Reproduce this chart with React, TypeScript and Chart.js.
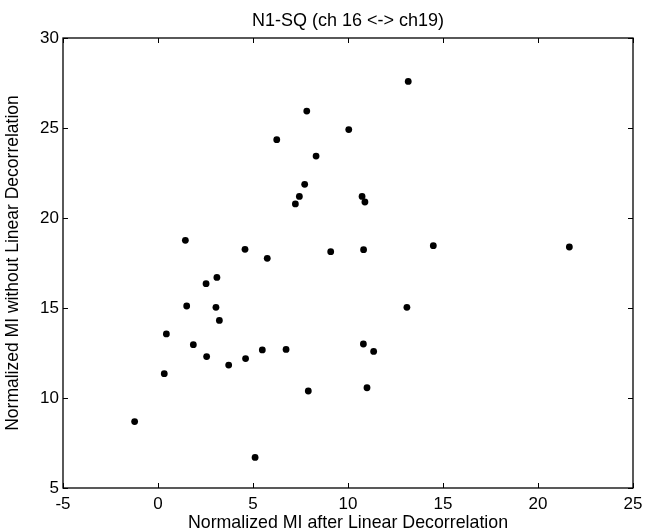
import React, { useEffect, useRef } from "react";
import { Chart, registerables } from "chart.js";

Chart.register(...registerables);

const titleText = "N1-SQ (ch 16 <-> ch19)";
const xTitle = "Normalized MI after Linear Decorrelation";
const yTitle = "Normalized MI without Linear Decorrelation";

const xValues = [
  1.44, 4.58, 5.75, 6.25, 7.83, 8.32, 7.72, 7.44, 7.23, 13.17, 10.04, 10.74, 10.89,
  9.09, 10.82, 14.49, 21.65, 2.53, 3.1, 1.51, 3.05, 3.23, 0.44, 1.86, 2.56, 3.72,
  4.61, 5.49, 6.74, 0.33, 7.91, -1.23, 5.11, 13.1, 10.81, 11.35, 11.0,
];
const yValues = [
  18.76, 18.26, 17.76, 24.35, 25.94, 23.44, 21.87, 21.2, 20.78, 27.59, 24.91, 21.2, 20.89,
  18.13, 18.24, 18.46, 18.39, 16.35, 16.7, 15.11, 15.04, 14.31, 13.56, 12.96, 12.3, 11.83,
  12.19, 12.67, 12.7, 11.35, 10.39, 8.69, 6.7, 15.04, 13.0, 12.59, 10.57,
];

const FONT = "'Liberation Sans', Arial, Helvetica, sans-serif";

const boxTicks = {
  id: "boxTicks",
  afterDraw(chart: any) {
    const { ctx, chartArea } = chart;
    const xs = chart.scales.x;
    const ys = chart.scales.y;
    const L = 5;
    ctx.save();
    ctx.strokeStyle = "#000";
    ctx.lineWidth = 1;
    ctx.beginPath();
    xs.ticks.forEach((t: any) => {
      const px = Math.round(xs.getPixelForValue(t.value)) + 0.5;
      ctx.moveTo(px, chartArea.bottom);
      ctx.lineTo(px, chartArea.bottom - L);
      ctx.moveTo(px, chartArea.top);
      ctx.lineTo(px, chartArea.top + L);
    });
    ys.ticks.forEach((t: any) => {
      const py = Math.round(ys.getPixelForValue(t.value)) + 0.5;
      ctx.moveTo(chartArea.left, py);
      ctx.lineTo(chartArea.left + L, py);
      ctx.moveTo(chartArea.right, py);
      ctx.lineTo(chartArea.right - L, py);
    });
    ctx.stroke();
    ctx.lineWidth = 1.3;
    ctx.strokeRect(
      chartArea.left,
      chartArea.top,
      chartArea.right - chartArea.left,
      chartArea.bottom - chartArea.top
    );
    ctx.fillStyle = "#000";
    ctx.textAlign = "center";
    ctx.textBaseline = "alphabetic";
    // title centred over the plot area
    ctx.font = `18px ${FONT}`;
    ctx.fillText(titleText, (chartArea.left + chartArea.right) / 2, 26);
    // x-axis title
    ctx.font = `17.8px ${FONT}`;
    ctx.fillText(xTitle, (chartArea.left + chartArea.right) / 2, 527.5);
    ctx.restore();
  },
};

export default function App() {
  const ref = useRef<HTMLCanvasElement | null>(null);
  useEffect(() => {
    if (!ref.current) return;
    const data = xValues.map((x, i) => ({ x, y: yValues[i] }));
    const chart = new Chart(ref.current, {
      type: "scatter",
      data: {
        datasets: [
          {
            data,
            backgroundColor: "#000",
            borderColor: "#000",
            pointRadius: 3.4,
            pointHoverRadius: 3.4,
            borderWidth: 0,
          },
        ],
      },
      options: {
        animation: false,
        responsive: true,
        maintainAspectRatio: false,
        layout: { padding: { left: 0, right: 21, top: 38, bottom: 0 } },
        plugins: {
          legend: { display: false },
          tooltip: { enabled: false },
          title: { display: false },
        },
        scales: {
          x: {
            type: "linear",
            min: -5,
            max: 25,
            ticks: {
              stepSize: 5,
              color: "#000",
              font: { family: FONT, size: 17 },
              padding: 6,
            },
            grid: { display: false, drawTicks: false },
            border: { display: false },
            title: { display: false },
            afterFit(scale: any) {
              scale.height = 43;
            },
          },
          y: {
            type: "linear",
            min: 5,
            max: 30,
            ticks: {
              stepSize: 5,
              color: "#000",
              font: { family: FONT, size: 17 },
              padding: 4,
            },
            grid: { display: false, drawTicks: false },
            border: { display: false },
            title: {
              display: true,
              text: yTitle,
              color: "#000",
              font: { family: FONT, size: 17.5 },
              padding: { top: 3, bottom: 0 },
            },
            afterFit(scale: any) {
              scale.width = 63;
            },
          },
        },
      },
      plugins: [boxTicks],
    });
    return () => chart.destroy();
  }, []);
  return (
    <div
      style={{
        position: "absolute",
        left: 0,
        top: 0,
        width: 654,
        height: 531,
        background: "#fff",
      }}
    >
      <canvas ref={ref} />
    </div>
  );
}
